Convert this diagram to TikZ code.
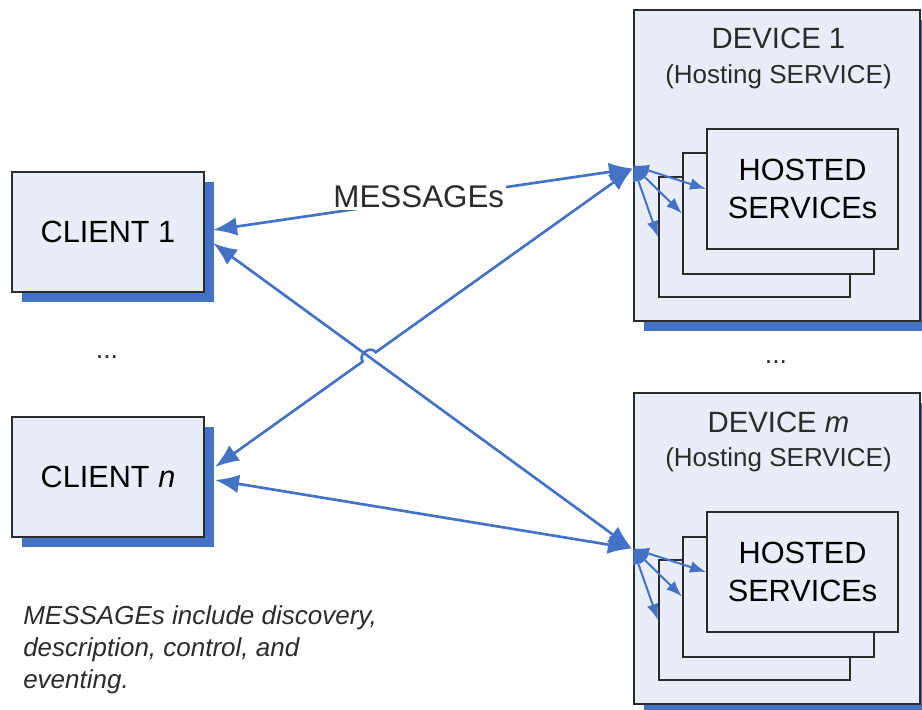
\documentclass[tikz,border=0pt]{standalone}
\usepackage{fontspec}
\setmainfont{Liberation Sans}
\usetikzlibrary{arrows.meta}
\usetikzlibrary{calc}
\usetikzlibrary{shadows}
\usetikzlibrary{intersections}

\definecolor{msgblue}{HTML}{4472C4}
\definecolor{boxfill}{HTML}{E9EDF7}
\definecolor{boxline}{HTML}{2B2B2B}

\tikzset{
    box/.style={draw=boxline, line width=1.5pt, fill=boxfill, inner sep=0pt, align=center},
    blueshadow/.style={drop shadow={shadow xshift=7.5pt, shadow yshift=-7.5pt, fill=msgblue, opacity=1}},
    clientbox/.style={box, blueshadow, minimum width=144pt, minimum height=90pt, font=\fontsize{23}{28}\selectfont},
    devicebox/.style={box, blueshadow, minimum width=214.5pt, minimum height=233.25pt},
    hostbox/.style={box, minimum width=143.25pt, minimum height=90pt, font=\fontsize{23}{28}\selectfont},
    titletext/.style={inner sep=0pt, font=\fontsize{22}{26}\selectfont, text=boxline},
    subtext/.style={inner sep=0pt, font=\fontsize{19.5}{24}\selectfont, text=boxline},
    msg/.style={draw=msgblue, line width=2pt, {Latex[length=18pt,width=14pt]}-{Latex[length=18pt,width=14pt]}},
    fan/.style={draw=msgblue, line width=1.5pt, {Latex[length=12pt,width=9pt]}-{Latex[length=12pt,width=9pt]}},
    msglabel/.style={fill=white, inner xsep=1.5pt, inner ysep=1pt, font=\fontsize{23.5}{28}\selectfont, text=boxline},
    note/.style={inner sep=0pt, align=left, font=\fontsize{19.5}{24}\selectfont\itshape, text=boxline},
    dots/.style={inner sep=0pt, font=\fontsize{20}{24}\selectfont, text=boxline},
}

\begin{document}
\begin{tikzpicture}[x=0.75pt,y=0.75pt,yscale=-1,xscale=1]
\useasboundingbox (0,0) rectangle (922,710);

% Clients
\node[clientbox] (c1) at (108,232) {CLIENT 1};
\node[clientbox] (cn) at (108,477) {CLIENT \textit{n}};
\node[dots] (cdots) at (107,357) {...};

% Devices
\node[devicebox] (d1) at (777,165.5) {};
\node[devicebox] (dm) at (777,548.5) {};
\node[dots] (ddots) at (776,362) {...};

\node[titletext, anchor=base] (d1t) at ($(d1.north)+(1.5,40)$) {DEVICE 1};
\node[subtext, anchor=base] (d1s) at ($(d1.north)+(1.5,75)$) {(Hosting SERVICE)};
\node[titletext, anchor=base] (dmt) at ($(dm.north)+(1.5,40)$) {DEVICE \textit{m}};
\node[subtext, anchor=base] (dms) at ($(dm.north)+(1.5,74)$) {(Hosting SERVICE)};

% Hosted services, back to front
\foreach \dev in {d1,dm} {
    \node[hostbox] (\dev-h3) at ($(\dev)+(-22.5,71.5)$) {};
    \node[hostbox] (\dev-h2) at ($(\dev)+(1.5,48)$) {};
    \node[hostbox] (\dev-h1) at ($(\dev)+(25.5,23.5)$) {HOSTED\\SERVICEs};
    \foreach \h in {h1,h2,h3}
        \draw[fan] (\dev.west) -- (\dev-\h.west);
}

% Message ends
\coordinate (c1-a) at ($(c1.east)+(8,-2)$);
\coordinate (c1-b) at ($(c1.east)+(8,11)$);
\coordinate (cn-a) at ($(cn.east)+(10,-10)$);
\coordinate (cn-b) at ($(cn.east)+(10,3)$);
\coordinate (d1-a) at ($(d1.west)+(0,3)$);
\coordinate (dm-a) at ($(dm.west)+(-1,0)$);

% Messages
\draw[msg] (c1-a) -- node[pos=0.49, yshift=2pt, msglabel] (lbl) {MESSAGEs} (d1-a);
\draw[msg, name path=down] (c1-b) -- (dm-a);
\draw[msg] (cn-b) -- (dm-a);
\path[name path=up] (cn-a) -- (d1-a);
\path[name intersections={of=down and up, by=cross}];
\draw[msg] (cn-a) -- ($(cross)!6pt!(cn-a)$) to[bend right=90, looseness=1.4] ($(cross)!6pt!(d1-a)$) -- (d1-a);

% Note
\node[note, anchor=north west] (note) at (23,605) {MESSAGEs include discovery,\\description, control, and\\eventing.};

\end{tikzpicture}
\end{document}
